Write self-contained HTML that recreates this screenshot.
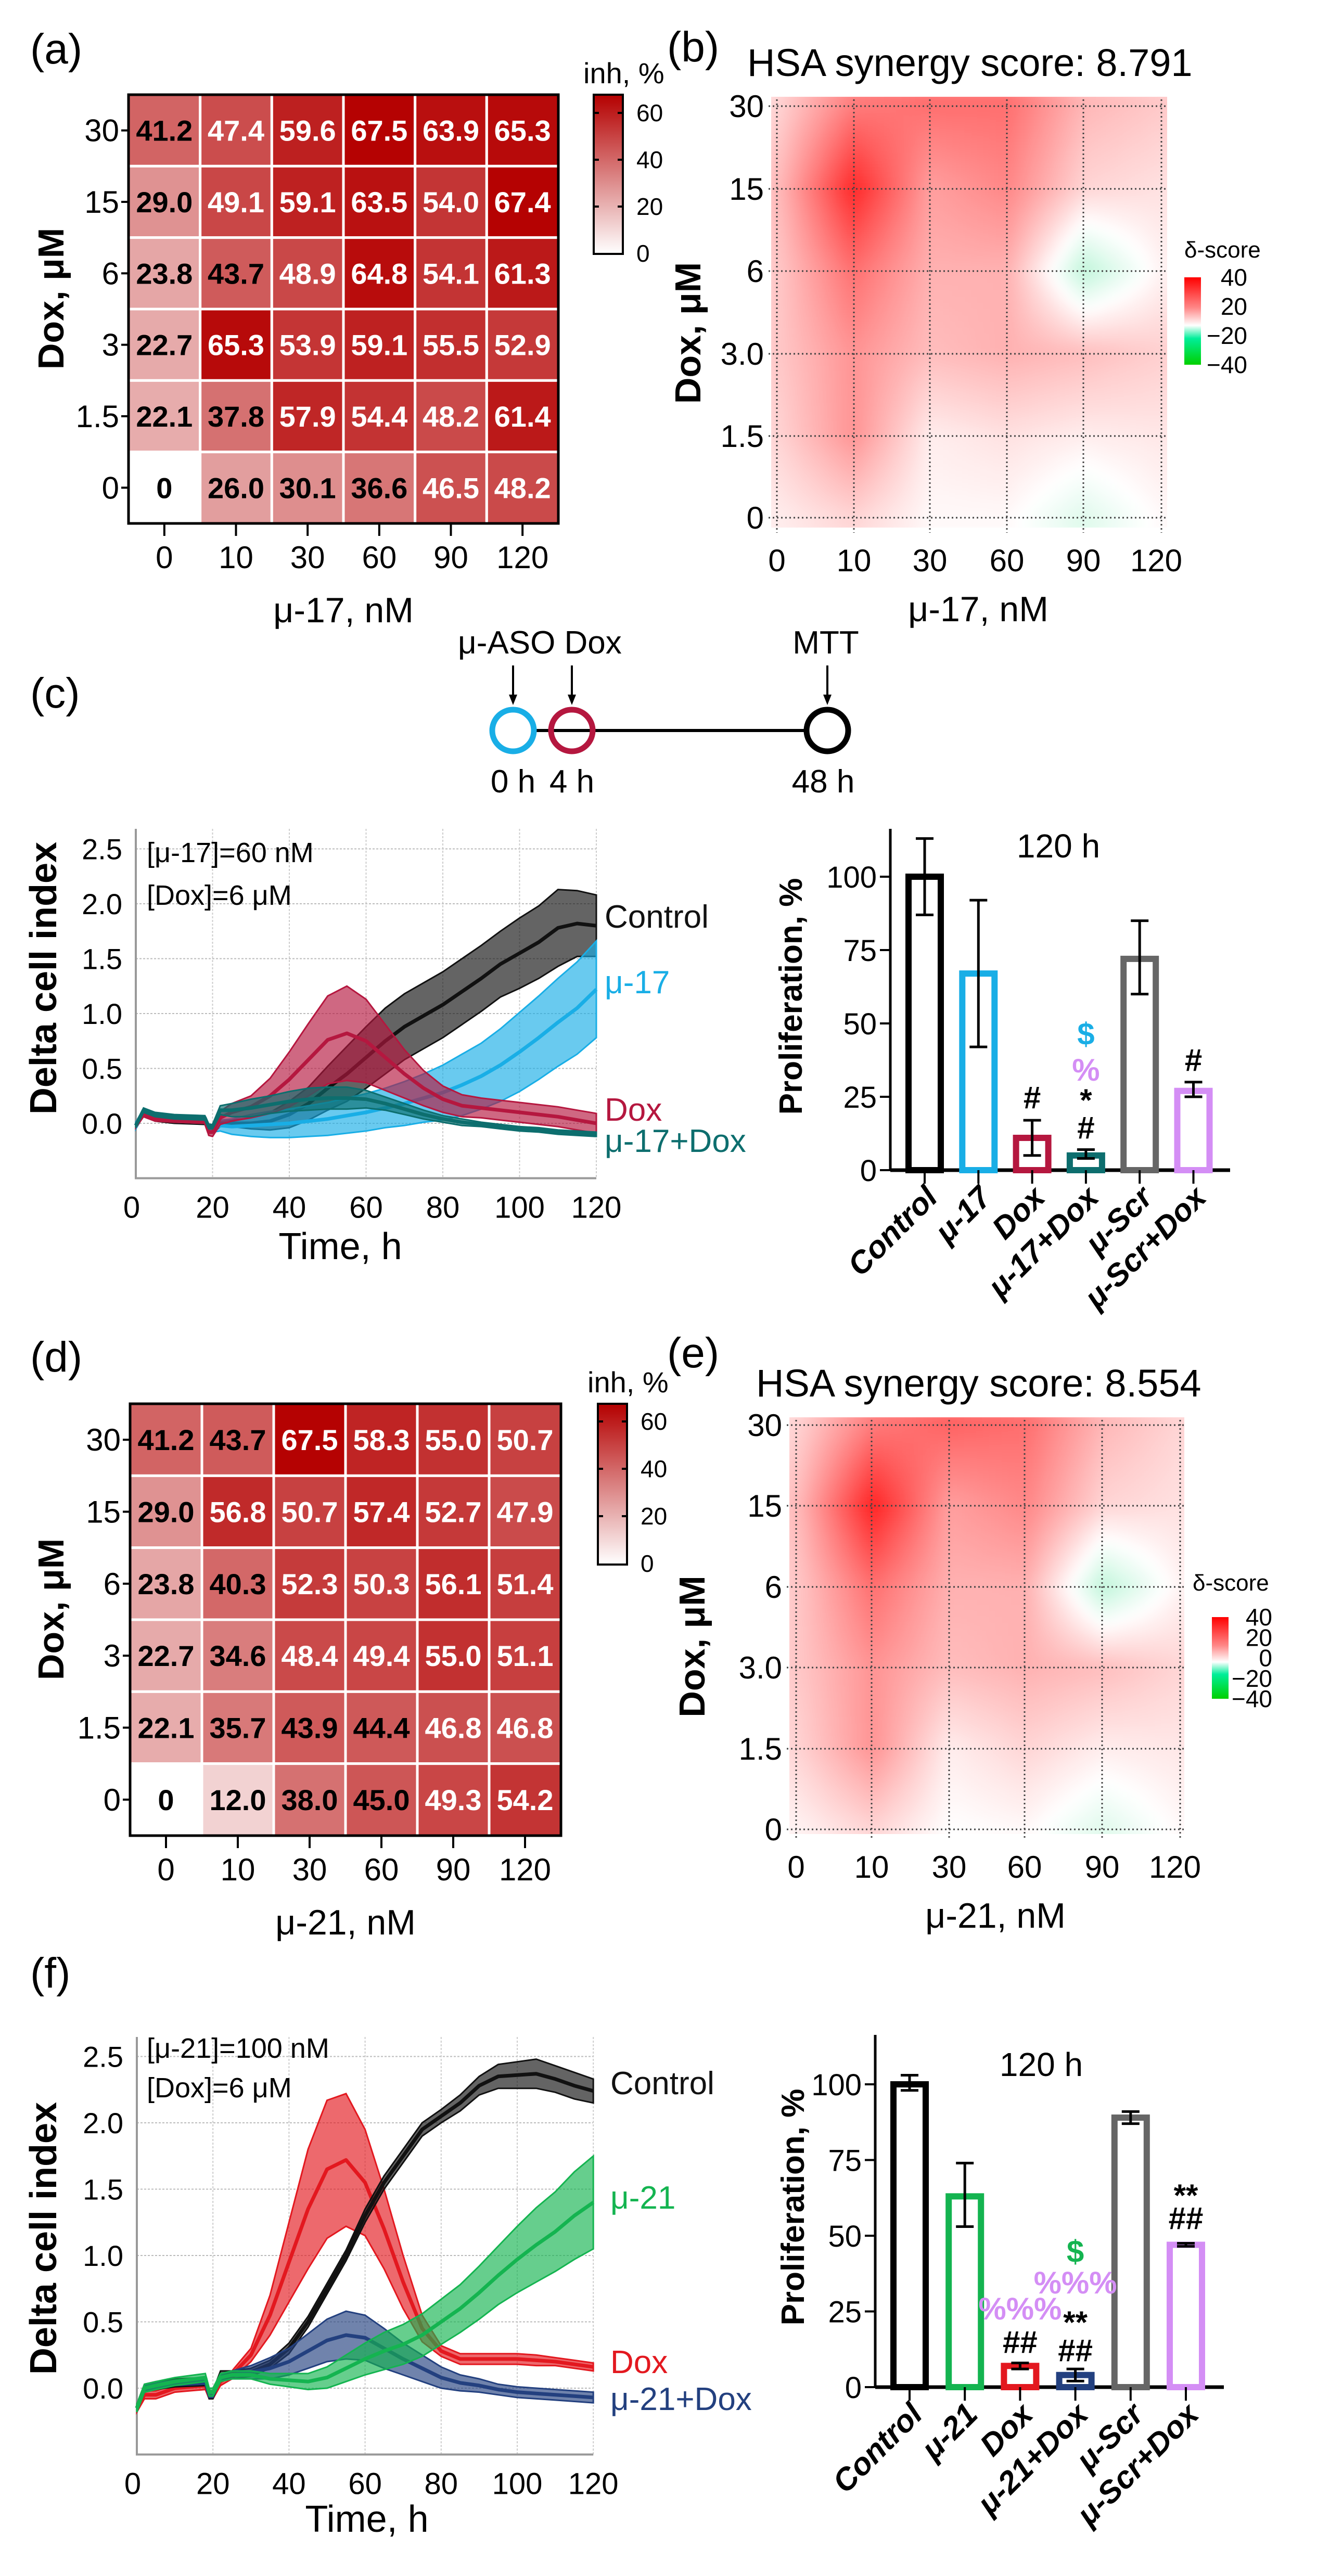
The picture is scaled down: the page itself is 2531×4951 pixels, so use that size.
<!DOCTYPE html>
<html><head><meta charset="utf-8">
<style>
html,body{margin:0;padding:0;background:#fff}
svg{display:block;font-family:"Liberation Sans",Arial,sans-serif}
</style></head>
<body>
<svg id="fig" xmlns="http://www.w3.org/2000/svg" width="2531" height="4951" viewBox="0 0 2531 4951">
<defs>
<linearGradient id="inhGrad" x1="0" y1="1" x2="0" y2="0"><stop offset="0" stop-color="#ffffff"/><stop offset="1" stop-color="#b40000"/></linearGradient>
<linearGradient id="deltaGrad" x1="0" y1="0" x2="0" y2="1"><stop offset="0" stop-color="#ff0000"/><stop offset="0.35" stop-color="#f88"/><stop offset="0.55" stop-color="#fff"/><stop offset="0.7" stop-color="#00ee99"/><stop offset="1" stop-color="#00d000"/></linearGradient>
<filter id="blur" x="-5%" y="-5%" width="110%" height="110%"><feGaussianBlur stdDeviation="9"/></filter>
<clipPath id="clipB"><rect x="1482" y="186" width="761" height="828"/></clipPath>
<clipPath id="clipE"><rect x="1517" y="2724" width="759" height="801"/></clipPath>
</defs>
<rect x="0" y="0" width="2531" height="4951" fill="#fff"/>

<text x="58" y="122" font-size="82">(a)</text>
<text x="1282" y="118" font-size="82">(b)</text>
<text x="58" y="1360" font-size="82">(c)</text>
<text x="58" y="2636" font-size="82">(d)</text>
<text x="1282" y="2628" font-size="82">(e)</text>
<text x="58" y="3820" font-size="82">(f)</text>

<text x="1436" y="146" font-size="74">HSA synergy score: 8.791</text>
<text x="1453" y="2684" font-size="74">HSA synergy score: 8.554</text>

<g>
<text x="880" y="1256" font-size="62">μ-ASO Dox</text>
<text x="1587" y="1256" font-size="62" text-anchor="middle">MTT</text>
<line x1="986" y1="1279" x2="986" y2="1345" stroke="#000" stroke-width="4"/>
<polygon points="978,1335 994,1335 986,1355" fill="#000"/>
<line x1="1099" y1="1279" x2="1099" y2="1345" stroke="#000" stroke-width="4"/>
<polygon points="1091,1335 1107,1335 1099,1355" fill="#000"/>
<line x1="1590" y1="1279" x2="1590" y2="1345" stroke="#000" stroke-width="4"/>
<polygon points="1582,1335 1598,1335 1590,1355" fill="#000"/>
<line x1="1030" y1="1404" x2="1546" y2="1404" stroke="#000" stroke-width="6"/>
<circle cx="986" cy="1404" r="40" fill="none" stroke="#19aee6" stroke-width="11"/>
<circle cx="1099" cy="1404" r="40" fill="none" stroke="#b5173f" stroke-width="11"/>
<circle cx="1590" cy="1404" r="40" fill="none" stroke="#000" stroke-width="11"/>
<text x="986" y="1523" font-size="62" text-anchor="middle">0 h</text>
<text x="1099" y="1523" font-size="62" text-anchor="middle">4 h</text>
<text x="1582" y="1523" font-size="62" text-anchor="middle">48 h</text>
</g>
</svg>
<script>
const heatCols = ['0','10','30','60','90','120'];
const heatRows = ['30','15','6','3','1.5','0'];
const inhA = [
 [41.2,47.4,59.6,67.5,63.9,65.3],
 [29.0,49.1,59.1,63.5,54.0,67.4],
 [23.8,43.7,48.9,64.8,54.1,61.3],
 [22.7,65.3,53.9,59.1,55.5,52.9],
 [22.1,37.8,57.9,54.4,48.2,61.4],
 [0,26.0,30.1,36.6,46.5,48.2]];
const inhD = [
 [41.2,43.7,67.5,58.3,55.0,50.7],
 [29.0,56.8,50.7,57.4,52.7,47.9],
 [23.8,40.3,52.3,50.3,56.1,51.4],
 [22.7,34.6,48.4,49.4,55.0,51.1],
 [22.1,35.7,43.9,44.4,46.8,46.8],
 [0,12.0,38.0,45.0,49.3,54.2]];
const inhTicks = [0,20,40,60];
const deltaB = [
 [7,22,24,24,12,9],
 [11,36,16,20,7,5],
 [9,24,13,13,-10,2],
 [9,18,11,13,11,8],
 [7,18,3,5,3,4],
 [3,7,1,1,-5,1]];
const deltaE = [
 [7,22,26,24,12,7],
 [11,37,16,20,7,5],
 [9,24,13,13,-10,2],
 [9,18,11,13,11,7],
 [7,18,3,7,3,4],
 [2,7,0,1,-5,1]];
const deltaTicks = ['40','20','−20','−40'];
const deltaTicksE = ['40','20','0','−20','−40'];

const times = [0,2,5,10,18,19,20,22,25,30,35,40,45,50,55,60,65,70,75,80,85,90,95,100,105,110,115,120];
const cCtrlMean = [-0.02,0.1,0.05,0.03,0.02,-0.06,-0.06,0.0,0.0,0.0,0.02,0.08,0.18,0.32,0.45,0.6,0.75,0.88,0.98,1.08,1.2,1.32,1.45,1.55,1.65,1.78,1.82,1.8];
const cCtrlSd   = [0.03,0.03,0.03,0.03,0.03,0.03,0.03,0.03,0.03,0.05,0.08,0.12,0.15,0.2,0.25,0.28,0.3,0.3,0.3,0.3,0.3,0.3,0.3,0.32,0.33,0.35,0.3,0.28];
const cMuMean   = [-0.02,0.1,0.06,0.04,0.03,-0.05,-0.05,-0.02,-0.03,-0.02,-0.01,0.0,0.02,0.04,0.07,0.1,0.14,0.18,0.23,0.28,0.35,0.43,0.53,0.65,0.78,0.92,1.05,1.22];
const cMuSd     = [0.03,0.03,0.03,0.03,0.03,0.03,0.03,0.05,0.07,0.1,0.12,0.13,0.14,0.15,0.16,0.17,0.18,0.2,0.22,0.25,0.28,0.3,0.33,0.36,0.38,0.4,0.42,0.44];
const cDoxMean  = [-0.02,0.08,0.04,0.03,0.02,-0.08,-0.08,0.05,0.1,0.15,0.25,0.4,0.58,0.76,0.82,0.75,0.6,0.45,0.32,0.22,0.16,0.14,0.12,0.1,0.08,0.06,0.03,0.0];
const cDoxSd    = [0.02,0.02,0.02,0.02,0.02,0.03,0.04,0.06,0.08,0.1,0.16,0.25,0.33,0.4,0.43,0.38,0.3,0.22,0.16,0.12,0.1,0.09,0.09,0.09,0.09,0.09,0.09,0.09];
const cCombMean = [-0.02,0.12,0.08,0.06,0.05,-0.03,-0.03,0.12,0.12,0.14,0.17,0.2,0.22,0.23,0.23,0.22,0.18,0.13,0.08,0.04,0.01,-0.01,-0.03,-0.05,-0.06,-0.08,-0.09,-0.1];
const cCombSd   = [0.02,0.02,0.02,0.02,0.02,0.02,0.02,0.04,0.06,0.08,0.08,0.09,0.1,0.1,0.1,0.08,0.06,0.05,0.04,0.03,0.03,0.02,0.02,0.02,0.02,0.02,0.02,0.02];

const fCtrlMean = [-0.15,0.0,0.02,0.04,0.05,-0.05,-0.05,0.1,0.1,0.12,0.18,0.3,0.5,0.75,1.0,1.3,1.55,1.75,1.95,2.05,2.15,2.28,2.35,2.36,2.37,2.33,2.28,2.24];
const fCtrlSd   = [0.03,0.03,0.03,0.03,0.03,0.03,0.03,0.03,0.03,0.03,0.03,0.04,0.04,0.04,0.04,0.05,0.05,0.05,0.05,0.05,0.06,0.07,0.09,0.1,0.11,0.1,0.1,0.09];
const fDoxMean  = [-0.15,-0.05,-0.05,0.0,0.02,-0.05,-0.05,0.05,0.1,0.25,0.55,0.95,1.35,1.65,1.72,1.55,1.2,0.8,0.45,0.28,0.22,0.22,0.22,0.22,0.21,0.2,0.18,0.16];
const fDoxSd    = [0.03,0.03,0.03,0.03,0.03,0.03,0.03,0.03,0.03,0.05,0.15,0.3,0.45,0.52,0.5,0.4,0.3,0.2,0.1,0.04,0.04,0.04,0.04,0.04,0.04,0.03,0.03,0.03];
const fMuMean   = [-0.15,0.0,0.02,0.05,0.08,-0.03,-0.03,0.08,0.1,0.1,0.07,0.06,0.05,0.08,0.15,0.22,0.28,0.33,0.4,0.5,0.6,0.72,0.85,0.97,1.08,1.18,1.3,1.4];
const fMuSd     = [0.03,0.03,0.03,0.03,0.03,0.03,0.03,0.03,0.03,0.03,0.04,0.05,0.06,0.08,0.1,0.12,0.14,0.15,0.16,0.17,0.18,0.2,0.22,0.25,0.28,0.3,0.33,0.35];
const fCombMean = [-0.15,0.0,0.02,0.04,0.05,-0.05,-0.05,0.08,0.1,0.12,0.15,0.2,0.28,0.36,0.4,0.38,0.3,0.22,0.15,0.08,0.04,0.02,-0.01,-0.03,-0.04,-0.05,-0.06,-0.07];
const fCombSd   = [0.02,0.02,0.02,0.02,0.02,0.02,0.02,0.02,0.03,0.05,0.08,0.1,0.13,0.16,0.18,0.17,0.15,0.12,0.1,0.08,0.06,0.05,0.04,0.04,0.04,0.04,0.04,0.04];

const lineYTicks = [0.0,0.5,1.0,1.5,2.0,2.5];
const lineXTicks = [0,20,40,60,80,100,120];

const barCats17 = ['Control','μ-17','Dox','μ-17+Dox','μ-Scr','μ-Scr+Dox'];
const barVals17 = [100,67,11,5,72,27];
const barLo17 = [87,42,5,4,60,25];
const barHi17 = [113,92,17,7,85,30];
const barCats21 = ['Control','μ-21','Dox','μ-21+Dox','μ-Scr','μ-Scr+Dox'];
const barVals21 = [100,63,7,4,89,47];
const barLo21 = [98,53,6,2,87,46.5];
const barHi21 = [103,74,8,6,91,47.5];
const barYTicks = [0,25,50,75,100];

const NS='http://www.w3.org/2000/svg';
const S=document.getElementById('fig');
function mk(tag,at,p){const e=document.createElementNS(NS,tag);for(const k in at)e.setAttribute(k,at[k]);(p||S).appendChild(e);return e;}
function tx(str,at,p){const e=mk('text',at,p);e.textContent=str;return e;}
function heatColor(v){const t=Math.min(v/68,1);const r=Math.round(255-75*t),g=Math.round(255-255*t);return `rgb(${r},${g},${g})`;}
function deltaColor(d){
  if(d>=0){const t=Math.min(d/40,1);const g=Math.round(255-240*t);return `rgb(255,${g},${g})`;}
  const t=Math.min(-d/40,1);return `rgb(${Math.round(255-255*t)},${Math.round(255-40*t)},${Math.round(255-150*t)})`;
}

function drawHeat(vals,bx,by,bw,bh,xTitle,cb,gname){
  const g=mk('g',{});
  
  
  const cw=bw/6,ch=bh/6;
  vals.forEach((row,ri)=>row.forEach((v,ci)=>{
    const r=mk('rect',{x:bx+ci*cw,y:by+ri*ch,width:cw,height:ch,fill:heatColor(v),stroke:'#fff','stroke-width':5},g);
    
    
    const t=tx(v===0?'0':v.toFixed(1),{x:bx+ci*cw+cw/2,y:by+ri*ch+ch/2+20,'text-anchor':'middle','font-size':56,'font-weight':'bold',fill:v>45.5?'#fff':'#000'},g);
    
    
  }));
  const b=mk('rect',{x:bx,y:by,width:bw,height:bh,fill:'none',stroke:'#000','stroke-width':5},g);
  
  
  heatRows.forEach((lab,i)=>{
    const yy=by+i*ch+ch/2;
    const l=mk('line',{x1:bx-14,y1:yy,x2:bx,y2:yy,stroke:'#000','stroke-width':4},g);
    
    
    const t=tx(lab,{x:bx-18,y:yy+21,'text-anchor':'end','font-size':60},g);
    
    
  });
  heatCols.forEach((lab,i)=>{
    const xx=bx+i*cw+cw/2;
    const l=mk('line',{x1:xx,y1:by+bh,x2:xx,y2:by+bh+24,stroke:'#000','stroke-width':4},g);
    
    
    const t=tx(lab,{x:xx,y:by+bh+86,'text-anchor':'middle','font-size':60},g);
    
    
  });
  const xt=tx(xTitle,{x:bx+bw/2,y:by+bh+190,'text-anchor':'middle','font-size':68},g);
  
  
  const yt=tx('Dox, μM',{x:0,y:0,'text-anchor':'middle','font-size':70,'font-weight':'bold',transform:`translate(122,${by+bh/2-20}) rotate(-90)`},g);
  
  
  const cbr=mk('rect',{x:cb.x,y:cb.y0,width:56,height:cb.y1-cb.y0,fill:'url(#inhGrad)',stroke:'#000','stroke-width':4},g);
  
  
  const per=(cb.yZero-cb.y60)/60;
  inhTicks.forEach(v=>{
    const yy=cb.yZero-v*per;
    if(v>0){
      const k=mk('line',{x1:cb.x,y1:yy,x2:cb.x+10,y2:yy,stroke:'#000','stroke-width':4},g);
      
      
      const k2=mk('line',{x1:cb.x+46,y1:yy,x2:cb.x+56,y2:yy,stroke:'#000','stroke-width':4},g);
      
      
    }
    const t=tx(String(v),{x:cb.x+82,y:yy+16,'font-size':46},g);
    
    
  });
  const ct=tx('inh, %',{x:cb.x-20,y:cb.y0-22,'font-size':56},g);
  
  
}
drawHeat(inhA,247,182,826,824,'μ-17, nM',{x:1141,y0:182,y1:488,yZero:487,y60:217},'heatmap-a');
drawHeat(inhD,250,2698,828,830,'μ-21, nM',{x:1149,y0:2698,y1:3007,yZero:3005,y60:2732},'heatmap-d');

function drawSyn(vals,box,xt,yt,clip,xTitle,xTitleX,ytX,leg,legTicks,gname){
  const g=mk('g',{});
  
  
  const surf=mk('g',{'clip-path':`url(#${clip})`},g);
  
  
  const inner=mk('g',{filter:'url(#blur)'},surf);
  const step=12;
  for(let px=box.x0-12;px<box.x1+12;px+=step){
    let fx=(px+step/2-xt[0])/(xt[5]-xt[0])*5; fx=Math.max(0,Math.min(5,fx));
    const ci=Math.min(4,Math.floor(fx)),ax=fx-ci;
    for(let py=box.y0-12;py<box.y1+12;py+=step){
      let fy=(py+step/2-yt[0])/(yt[5]-yt[0])*5; fy=Math.max(0,Math.min(5,fy));
      const ri=Math.min(4,Math.floor(fy)),ay=fy-ri;
      const d=vals[ri][ci]*(1-ax)*(1-ay)+vals[ri][ci+1]*ax*(1-ay)+vals[ri+1][ci]*(1-ax)*ay+vals[ri+1][ci+1]*ax*ay;
      const r=mk('rect',{x:px,y:py,width:step+1,height:step+1,fill:deltaColor(d)},inner);
      
      
    }
  }
  xt.forEach((x,i)=>{
    const l=mk('line',{x1:x,y1:box.y0+5,x2:x,y2:box.y1+10,stroke:'#444','stroke-width':3,'stroke-dasharray':'3 5'},g);
    
    
    const t=tx(heatCols[i],{x:x+(i===5?-10:0),y:box.y1+84,'text-anchor':'middle','font-size':60},g);
    
    
  });
  const yl=['30','15','6','3.0','1.5','0'];
  yt.forEach((y,i)=>{
    const l=mk('line',{x1:box.x0-5,y1:y,x2:box.x1,y2:y,stroke:'#444','stroke-width':3,'stroke-dasharray':'3 5'},g);
    
    
    const t=tx(yl[i],{x:box.x0-14,y:y+21,'text-anchor':'end','font-size':60},g);
    
    
  });
  const xtt=tx(xTitle,{x:xTitleX,y:box.y1+180,'text-anchor':'middle','font-size':68},g);
  
  
  const ytt=tx('Dox, μM',{x:0,y:0,'text-anchor':'middle','font-size':70,'font-weight':'bold',transform:`translate(${ytX},${(box.y0+box.y1)/2+40}) rotate(-90)`},g);
  
  
  const lt=tx('δ-score',{x:leg.tx,y:leg.ty,'font-size':44},g);
  
  
  const lb=mk('rect',{x:leg.x,y:leg.y0,width:32,height:leg.y1-leg.y0,fill:'url(#deltaGrad)'},g);
  
  
  legTicks.forEach((s,i)=>{
    const yy=leg.y0+(leg.y1-leg.y0)*i/(legTicks.length-1);
    const t=tx(s,{x:leg.lx,y:yy+16,'text-anchor':'end','font-size':46},g);
    
    
  });
}
drawSyn(deltaB,{x0:1482,x1:2243,y0:186,y1:1014},[1493,1641,1787,1935,2082,2232],[204,363,521,680,838,995],'clipB','μ-17, nM',1880,1346,{tx:2276,ty:495,x:2276,y0:533,y1:701,lx:2397},deltaTicks,'synergy-plot-b');
drawSyn(deltaE,{x0:1517,x1:2276,y0:2724,y1:3525},[1530,1675,1824,1969,2118,2268],[2739,2894,3050,3205,3361,3516],'clipE','μ-21, nM',1913,1354,{tx:2292,ty:3057,x:2329,y0:3108,y1:3265,lx:2445},deltaTicksE,'synergy-plot-e');

function drawLineChart(cfg){
  const g=mk('g',{});
  
  
  const X=t=>cfg.x0+t*cfg.xs, Y=v=>cfg.y0-v*cfg.ys;
  lineYTicks.forEach(v=>{
    const l=mk('line',{x1:X(0),y1:Y(v),x2:X(120),y2:Y(v),stroke:'#bbb','stroke-width':2,'stroke-dasharray':'4 3'},g);
    
    
    const t=tx(v.toFixed(1),{x:cfg.x0-26,y:Y(v)+20,'text-anchor':'end','font-size':56},g);
    
    
  });
  lineXTicks.forEach(t0=>{
    if(t0>0){
      const l=mk('line',{x1:X(t0),y1:cfg.top,x2:X(t0),y2:Y(-0.5),stroke:'#ccc','stroke-width':2,'stroke-dasharray':'4 3'},g);
      
      
    }
    const t=tx(String(t0),{x:X(t0)-(t0===0?8:0),y:Y(-0.5)+76,'text-anchor':'middle','font-size':58},g);
    
    
  });
  const ax=mk('path',{d:`M${X(0)},${cfg.top} L${X(0)},${Y(-0.5)} L${X(120)},${Y(-0.5)}`,fill:'none',stroke:'#999','stroke-width':4},g);
  
  
  cfg.series.forEach(s=>{
    const up=times.map((t,i)=>`${X(t).toFixed(1)},${Y(s.m[i]+s.sd[i]).toFixed(1)}`);
    const lo=times.map((t,i)=>`${X(t).toFixed(1)},${Y(s.m[i]-s.sd[i]).toFixed(1)}`).reverse();
    const band=mk('polygon',{points:up.concat(lo).join(' '),fill:s.c,'fill-opacity':0.65,stroke:s.c,'stroke-width':3},g);
    
    
    const ln=mk('polyline',{points:times.map((t,i)=>`${X(t).toFixed(1)},${Y(s.m[i]).toFixed(1)}`).join(' '),fill:'none',stroke:s.c,'stroke-width':7,'stroke-linejoin':'round'},g);
    
    
    const lab=tx(s.label,{x:cfg.labX,y:s.ly,'font-size':62,fill:s.c},g);
    
    
  });
  cfg.notes.forEach((n,i)=>{
    const t=tx(n,{x:282,y:cfg.noteY[i],'font-size':54},g);
    
    
  });
  const xt=tx('Time, h',{x:cfg.xTitleX,y:cfg.xTitleY,'text-anchor':'middle','font-size':72},g);
  
  
  const yt=tx('Delta cell index',{x:0,y:0,'text-anchor':'middle','font-size':72,'font-weight':'bold',transform:`translate(108,${cfg.yTitleY}) rotate(-90)`},g);
  
  
}
drawLineChart({name:'line-chart-c',x0:261,xs:7.375,y0:2159,ys:211,top:1593,labX:1162,xTitleX:654,xTitleY:2420,yTitleY:1880,
  notes:['[μ-17]=60 nM','[Dox]=6 μM'],noteY:[1657,1739],
  series:[
   {n:'control',label:'Control',c:'#111111',m:cCtrlMean,sd:cCtrlSd,ly:1783},
   {n:'mu17',label:'μ-17',c:'#19aee6',m:cMuMean,sd:cMuSd,ly:1909},
   {n:'dox',label:'Dox',c:'#b5173f',m:cDoxMean,sd:cDoxSd,ly:2154},
   {n:'mu17-dox',label:'μ-17+Dox',c:'#0d6e6e',m:cCombMean,sd:cCombSd,ly:2214}]});
drawLineChart({name:'line-chart-f',x0:263,xs:7.31,y0:4590,ys:255,top:3915,labX:1173,xTitleX:705,xTitleY:4866,yTitleY:4302,
  notes:['[μ-21]=100 nM','[Dox]=6 μM'],noteY:[3955,4031],
  series:[
   {n:'dox',label:'Dox',c:'#e3181f',m:fDoxMean,sd:fDoxSd,ly:4561},
   {n:'control',label:'Control',c:'#111111',m:fCtrlMean,sd:fCtrlSd,ly:4025},
   {n:'mu21-dox',label:'μ-21+Dox',c:'#23407f',m:fCombMean,sd:fCombSd,ly:4632},
   {n:'mu21',label:'μ-21',c:'#14b450',m:fMuMean,sd:fMuSd,ly:4245}]});

function drawBars(cfg){
  const g=mk('g',{});
  
  
  const Y=v=>cfg.base-v*cfg.per;
  const ya=mk('line',{x1:cfg.ax,y1:cfg.top,x2:cfg.ax,y2:cfg.base,stroke:'#000','stroke-width':5},g);
  
  
  const xa=mk('line',{x1:cfg.ax,y1:cfg.base,x2:cfg.xEnd,y2:cfg.base,stroke:'#000','stroke-width':7},g);
  
  
  barYTicks.forEach(v=>{
    const l=mk('line',{x1:cfg.ax-20,y1:Y(v),x2:cfg.ax,y2:Y(v),stroke:'#000','stroke-width':4},g);
    
    
    const t=tx(String(v),{x:cfg.ax-26,y:Y(v)+21,'text-anchor':'end','font-size':58},g);
    
    
  });
  cfg.cats.forEach((c,i)=>{
    const cx=cfg.c0+i*cfg.sp;
    const b=mk('rect',{x:cx-cfg.w/2,y:Y(cfg.vals[i]),width:cfg.w,height:cfg.base-Y(cfg.vals[i]),fill:'#fff',stroke:cfg.colors[i],'stroke-width':12},g);
    
    
    const e=mk('path',{d:`M${cx},${Y(cfg.lo[i])} L${cx},${Y(cfg.hi[i])} M${cx-17},${Y(cfg.lo[i])} L${cx+17},${Y(cfg.lo[i])} M${cx-17},${Y(cfg.hi[i])} L${cx+17},${Y(cfg.hi[i])}`,stroke:'#000','stroke-width':5,fill:'none'},g);
    
    
    const tk=mk('line',{x1:cx,y1:cfg.base,x2:cx,y2:cfg.base+26,stroke:'#000','stroke-width':4},g);
    
    
    const t=tx(c,{x:0,y:0,'text-anchor':'end','font-size':60,'font-weight':'bold','font-style':'italic',transform:`translate(${cx+28},${cfg.base+56}) rotate(-45)`},g);
    
    
  });
  cfg.marks.forEach(m=>{
    const t=tx(m.s,{x:cfg.c0+m.i*cfg.sp,y:m.y,'text-anchor':'middle','font-size':m.fs||60,'font-weight':'bold',fill:m.c||'#000'},g);
    
    
  });
  const tt=tx('120 h',{x:cfg.titleX,y:cfg.titleY,'text-anchor':'middle','font-size':64},g);
  
  
  const yt=tx('Proliferation, %',{x:0,y:0,'text-anchor':'middle','font-size':62,'font-weight':'bold',transform:`translate(${cfg.ytX},${cfg.ytY}) rotate(-90)`},g);
  
  
}
drawBars({name:'bar-chart-c',ax:1711,base:2249,per:5.64,top:1593,xEnd:2364,c0:1777,sp:103.3,w:62,
  cats:barCats17,vals:barVals17,lo:barLo17,hi:barHi17,
  colors:['#000','#19aee6','#b5173f','#0d6e6e','#666','#d48ef5'],titleX:2034,titleY:1648,ytX:1541,ytY:1915,
  marks:[{i:2,s:'#',y:2130},{i:3,s:'$',y:2008,c:'#19aee6'},{i:3,s:'%',y:2077,c:'#d48ef5'},{i:3,s:'*',y:2135},{i:3,s:'#',y:2188},{i:5,s:'#',y:2058}]});
drawBars({name:'bar-chart-f',ax:1682,base:4588,per:5.82,top:3911,xEnd:2352,c0:1748,sp:106.2,w:62,
  cats:barCats21,vals:barVals21,lo:barLo21,hi:barHi21,
  colors:['#000','#14b450','#e3181f','#23407f','#666','#d48ef5'],titleX:2001,titleY:3990,ytX:1545,ytY:4242,
  marks:[{i:2,s:'##',y:4522},{i:2,s:'%%%',y:4458,c:'#d48ef5'},{i:3,s:'##',y:4538},{i:3,s:'**',y:4484},{i:3,s:'%%%',y:4408,c:'#d48ef5'},{i:3,s:'$',y:4348,c:'#14b450'},{i:5,s:'**',y:4240},{i:5,s:'##',y:4284}]});
</script>
</body></html>
